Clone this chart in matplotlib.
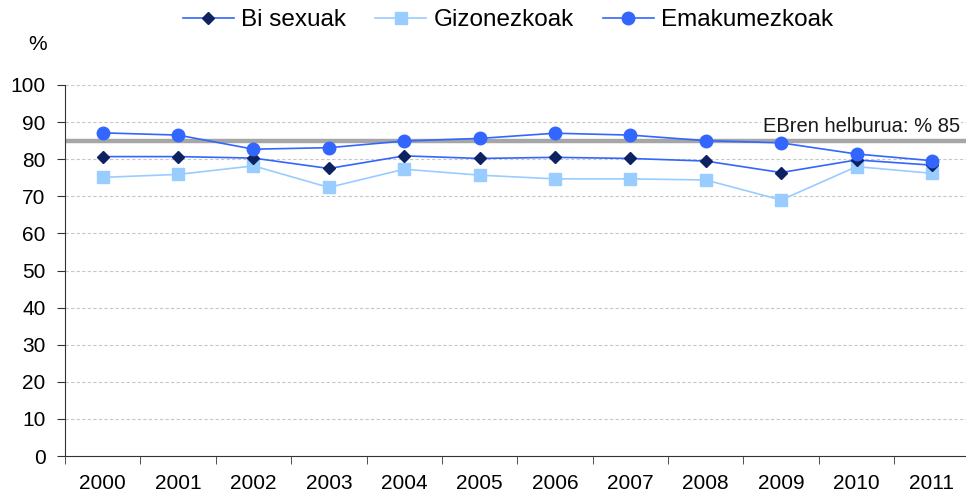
import matplotlib
matplotlib.use("Agg")
import matplotlib.pyplot as plt
import numpy as np

years = ["2000", "2001", "2002", "2003", "2004", "2005", "2006", "2007", "2008", "2009", "2010", "2011"]
bi_sexuak = [80.7, 80.7, 80.3, 77.5, 80.9, 80.2, 80.5, 80.2, 79.5, 76.4, 79.8, 78.4]
gizonezkoak = [75.1, 75.9, 78.2, 72.4, 77.3, 75.7, 74.7, 74.7, 74.4, 69.0, 78.0, 76.2]
emakumezkoak = [87.1, 86.5, 82.7, 83.1, 84.9, 85.6, 87.0, 86.5, 85.0, 84.4, 81.4, 79.6]
target = 85
target_label = "EBren helburua: % 85"
yticks = [0, 10, 20, 30, 40, 50, 60, 70, 80, 90, 100]

plt.rcParams['font.family'] = ['Liberation Sans', 'DejaVu Sans']
W, H = 966, 493
fig = plt.figure(figsize=(W / 100, H / 100), dpi=100)
left, right, top, bottom = 65, 969.6, 85, 456
ax = fig.add_axes([left / W, 1 - bottom / H, (right - left) / W, (bottom - top) / H])

x = np.arange(len(years))
ax.set_xlim(-0.5, len(years) - 0.5)
ax.set_ylim(0, 100)

for yv in yticks[1:]:
    ax.axhline(yv, color='#c8c8c8', lw=0.8, ls=(0, (3, 2)), zorder=0)

ax.axhline(target, color='#a6a6a6', lw=3.2, zorder=1)
ax.text(len(years) - 0.63, target + 1.2, target_label, ha='right', va='bottom',
        fontsize=14.5, color='#1a1a1a', zorder=2,
        bbox=dict(facecolor='white', edgecolor='none', pad=1))

ax.plot(x, gizonezkoak, color='#99ccff', lw=1.2, marker='s', ms=9,
        mfc='#99ccff', mec='#99ccff', label='Gizonezkoak', zorder=3)
ax.plot(x, bi_sexuak, color='#3366ff', lw=1.2, marker='D', ms=6.5,
        mfc='#0d2260', mec='#0d2260', label='Bi sexuak', zorder=4)
ax.plot(x, emakumezkoak, color='#3366ff', lw=1.2, marker='o', ms=9,
        mfc='#3366ff', mec='#3366ff', label='Emakumezkoak', zorder=5)

ax.set_yticks(yticks)
ax.set_yticklabels([str(v) for v in yticks], fontsize=15)
ax.set_xticks(x)
ax.set_xticklabels(years, fontsize=15)
ax.set_xticks(np.arange(len(years) + 1) - 0.5, minor=True)
ax.tick_params(axis='x', which='major', length=0, pad=13)
ax.tick_params(axis='x', which='minor', length=6, direction='out', color='#333333')
ax.tick_params(axis='y', length=6, direction='out', color='#333333', pad=8)

for s in ['top', 'right']:
    ax.spines[s].set_visible(False)
ax.spines['left'].set_color('#333333')
ax.spines['bottom'].set_color('#333333')

fig.text(38 / W, 1 - 44 / H, '%', fontsize=15, ha='center', va='center')

handles, labels = ax.get_legend_handles_labels()
order = [1, 0, 2]
fig.legend([handles[i] for i in order], [labels[i] for i in order],
           loc='center', bbox_to_anchor=(508 / W, 1 - 20 / H), ncol=3, frameon=False,
           fontsize=17.5, handlelength=2.1, columnspacing=1.2, handletextpad=0.3)

fig.savefig('out.png', dpi=100)
